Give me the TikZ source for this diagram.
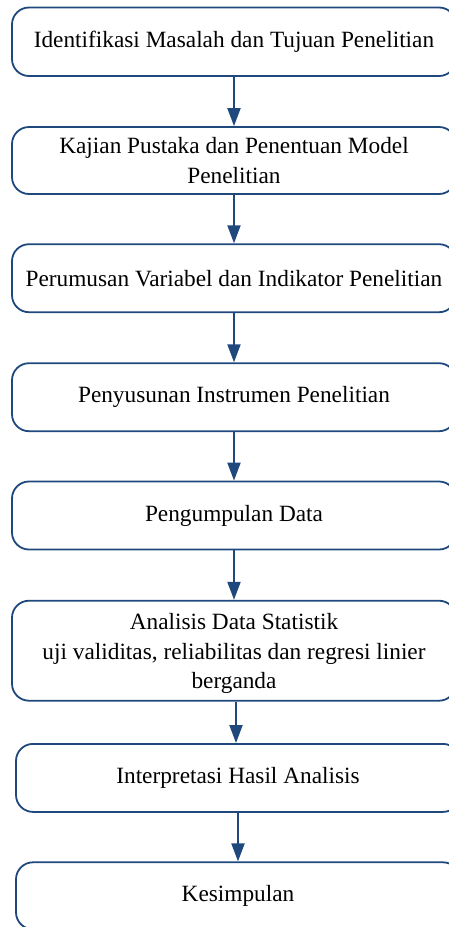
\documentclass[tikz,border=0pt]{standalone}
\usepackage{fontspec}
\setmainfont{Liberation Serif}
\usetikzlibrary{arrows.meta}
\definecolor{flowblue}{RGB}{31,73,125}
\tikzset{
  steptext/.style={align=center, inner sep=0pt,
    font=\fontsize{23.3}{29.6}\selectfont, text=black},
  stepbox/.style={steptext, draw=flowblue, line width=1.8pt, rounded corners=17pt,
    rectangle, minimum width=444pt},
  flowarrow/.style={draw=flowblue, line width=2pt,
    -{Triangle[width=13pt,length=18pt]}}
}
\begin{document}
\begin{tikzpicture}[x=1pt,y=-1pt]
\useasboundingbox (0,0) rectangle (449,927);
\clip (0,0) rectangle (449,927);
\fill[white] (0,0) rectangle (449,927);

% process steps, top to bottom
\node[stepbox, minimum height=68.5pt] (b1) at (234,41.75)
  {Identifikasi Masalah dan Tujuan Penelitian};
\node[stepbox, minimum height=67pt] (b2) at (234,160.5)
  {Kajian Pustaka dan Penentuan Model\\Penelitian};
\node[stepbox, minimum height=68pt] (b3) at (234,278.2)
  {Perumusan Variabel dan Indikator Penelitian};
\node[stepbox, minimum height=68pt] (b4) at (234,397.2)
  {Penyusunan Instrumen Penelitian};
\node[stepbox, minimum height=68pt] (b5) at (234,515.5)
  {Pengumpulan Data};
\node[stepbox, minimum height=100pt] (b6) at (234,650.7) {};
\node[steptext] (b6text) at ([yshift=-3pt]b6.center)
  {Analisis Data Statistik\\uji validitas, reliabilitas dan regresi linier\\berganda};
\node[stepbox, minimum height=68pt] (b7) at (238,777.9)
  {Interpretasi Hasil Analisis};
\node[stepbox, minimum height=67pt] (b8) at (238,895.8)
  {Kesimpulan};

% connectors
\draw[flowarrow] (b1.south) -- (b2.north);
\draw[flowarrow] (b2.south) -- (b3.north);
\draw[flowarrow] (b3.south) -- (b4.north);
\draw[flowarrow] (b4.south) -- (b5.north);
\draw[flowarrow] (b5.south) -- (b6.north);
\draw[flowarrow] ([xshift=2pt]b6.south) -- ([xshift=-2pt]b7.north);
\draw[flowarrow] (b7.south) -- (b8.north);
\end{tikzpicture}
\end{document}
